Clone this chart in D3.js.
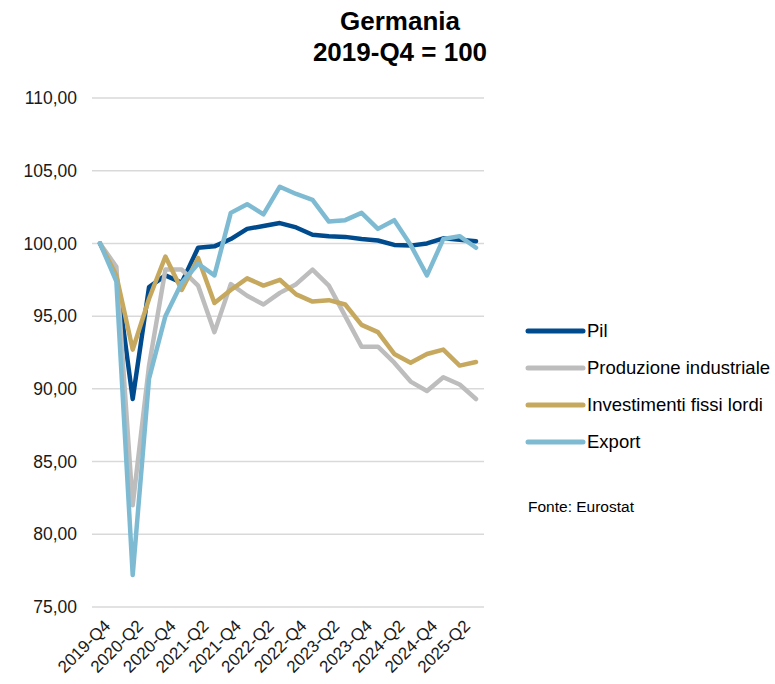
<!DOCTYPE html>
<html>
<head>
<meta charset="utf-8">
<script src="https://cdn.jsdelivr.net/npm/d3@7"></script>
<style>
  html, body { margin: 0; padding: 0; background: #fff; }
  svg { display: block; font-family: "Liberation Sans", Arial, sans-serif; }
</style>
</head>
<body>
<svg id="chart" width="775" height="684"></svg>
<script>
// Quarterly index, 2019-Q4 = 100
const quarters = [
  "2019-Q4","2020-Q1","2020-Q2","2020-Q3","2020-Q4","2021-Q1","2021-Q2","2021-Q3",
  "2021-Q4","2022-Q1","2022-Q2","2022-Q3","2022-Q4","2023-Q1","2023-Q2","2023-Q3",
  "2023-Q4","2024-Q1","2024-Q2","2024-Q3","2024-Q4","2025-Q1","2025-Q2","2025-Q3"
];
const tickQuarters = [
  "2019-Q4","2020-Q2","2020-Q4","2021-Q2","2021-Q4","2022-Q2",
  "2022-Q4","2023-Q2","2023-Q4","2024-Q2","2024-Q4","2025-Q2"
];
const yTicks = [75, 80, 85, 90, 95, 100, 105, 110];

const pil = [100, 97.8, 89.3, 97.0, 97.8, 97.3, 99.7, 99.8, 100.3, 101.0, 101.2, 101.4,
             101.1, 100.6, 100.5, 100.45, 100.3, 100.2, 99.9, 99.85, 100.0, 100.35, 100.25, 100.15];
const produzione = [100, 98.4, 82.0, 91.6, 98.2, 98.2, 97.1, 93.9, 97.2, 96.4, 95.8, 96.6,
                    97.2, 98.2, 97.1, 95.0, 92.9, 92.9, 91.8, 90.5, 89.85, 90.8, 90.3, 89.3];
const investimenti = [100, 97.8, 92.7, 96.2, 99.1, 96.8, 99.0, 95.9, 96.8, 97.6, 97.1, 97.5,
                      96.5, 96.0, 96.1, 95.8, 94.4, 93.9, 92.4, 91.8, 92.4, 92.7, 91.6, 91.85];
const exportVals = [100, 97.4, 77.2, 90.7, 95.0, 97.3, 98.6, 97.8, 102.1, 102.7, 102.0, 103.9,
                    103.4, 103.0, 101.5, 101.6, 102.1, 101.0, 101.6, 99.9, 97.8, 100.3, 100.5, 99.7];

const seriesNames = ["Pil", "Produzione industriale", "Investimenti fissi lordi", "Export"];
const seriesColors = ["#004b8d", "#bdbdbd", "#c6a95f", "#7ebbd3"];
const seriesValues = [pil, produzione, investimenti, exportVals];

const svg = d3.select("#chart");

const x = d3.scalePoint().domain(quarters).range([100, 476]);
const y = d3.scaleLinear().domain([75, 110]).range([607, 98]);

// Title
const title = svg.append("text")
  .attr("x", 400).attr("text-anchor", "middle")
  .attr("font-weight", "bold").attr("font-size", 26).attr("fill", "#000");
title.append("tspan").attr("x", 400).attr("y", 30).text("Germania");
title.append("tspan").attr("x", 400).attr("y", 61).text("2019-Q4 = 100");

// Horizontal gridlines
svg.append("g").selectAll("line").data(yTicks).join("line")
  .attr("x1", 92).attr("x2", 484)
  .attr("y1", d => y(d)).attr("y2", d => y(d))
  .attr("stroke", "#d9d9d9").attr("stroke-width", 1.5);

// Y axis labels
const fmt = d => d3.format(".2f")(d).replace(".", ",");
const yAxis = d3.axisLeft(y).tickValues(yTicks).tickFormat(fmt).tickSize(0).tickPadding(0);
svg.append("g").attr("transform", "translate(77,0)").call(yAxis)
  .call(g => g.select(".domain").remove())
  .call(g => g.selectAll("text").attr("font-size", 17.5).attr("fill", "#1a1a1a")
    .attr("font-family", "'Liberation Sans', Arial, sans-serif"));

// X axis labels, rotated
const xAxis = d3.axisBottom(x).tickValues(tickQuarters).tickSize(0).tickPadding(0);
svg.append("g").attr("transform", "translate(0,614)").call(xAxis)
  .call(g => g.select(".domain").remove())
  .call(g => g.selectAll("text")
    .attr("font-size", 17).attr("fill", "#1a1a1a")
    .attr("font-family", "'Liberation Sans', Arial, sans-serif")
    .attr("text-anchor", "end")
    .attr("dy", "0.75em")
    .attr("transform", "translate(2,4) rotate(-45)"));

// Lines
const line = d3.line()
  .x((d, i) => x(quarters[i]))
  .y(d => y(d));

svg.append("g").selectAll("path").data(seriesValues).join("path")
  .attr("d", d => line(d))
  .attr("fill", "none")
  .attr("stroke", (d, i) => seriesColors[i])
  .attr("stroke-width", 4.5)
  .attr("stroke-linejoin", "round")
  .attr("stroke-linecap", "round");

// Legend
const legend = svg.append("g").selectAll("g").data(seriesNames).join("g")
  .attr("transform", (d, i) => `translate(528, ${331 + i * 37})`);
legend.append("line")
  .attr("x1", 0).attr("x2", 55).attr("y1", 0).attr("y2", 0)
  .attr("stroke", (d, i) => seriesColors[i])
  .attr("stroke-width", 5).attr("stroke-linecap", "round");
legend.append("text")
  .attr("x", 59).attr("y", 0).attr("dy", "0.35em")
  .attr("font-size", 18.5).attr("fill", "#000")
  .text(d => d);

// Source note
svg.append("text")
  .attr("x", 528).attr("y", 512)
  .attr("font-size", 15.5).attr("fill", "#000")
  .text("Fonte: Eurostat");
</script>
</body>
</html>
